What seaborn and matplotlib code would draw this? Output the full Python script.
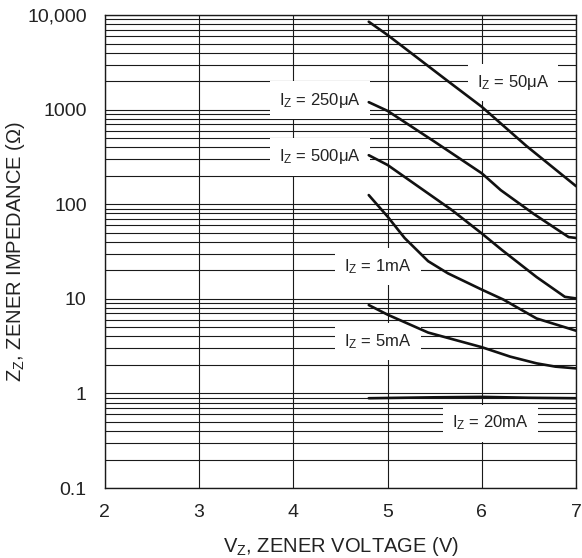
import numpy as np
import pandas as pd
import seaborn as sns
import matplotlib.pyplot as plt
from matplotlib.ticker import FixedLocator, NullFormatter

sns.set_style("white")
plt.rcParams['font.family'] = ['Liberation Sans', 'DejaVu Sans']
plt.rcParams['mathtext.fontset'] = 'custom'
plt.rcParams['mathtext.rm'] = 'Liberation Sans'
plt.rcParams['mathtext.it'] = 'Liberation Sans'

##  Curve data (Vz in volts, Zz in ohms)
vz_50ua = [4.8, 5.0, 5.64, 6.0, 6.47, 7.0]
zz_50ua = [8500, 6150, 2000, 1070, 415, 155]

vz_250ua = [4.8, 5.0, 5.5, 6.0, 6.2, 6.55, 6.85, 6.92, 7.0]
zz_250ua = [1200, 970, 457, 212, 141, 79, 50, 45, 44]

vz_500ua = [4.8, 5.0, 5.68, 6.0, 6.21, 6.58, 6.88, 7.0]
zz_500ua = [330, 260, 87, 49, 33, 17, 10.5, 10.1]

vz_1ma = [4.8, 5.0, 5.18, 5.43, 5.64, 6.0, 6.23, 6.58, 7.0]
zz_1ma = [125, 74, 44, 25, 18.6, 12.5, 9.8, 6.2, 4.6]

vz_5ma = [4.8, 5.0, 5.43, 6.0, 6.3, 6.58, 6.78, 7.0]
zz_5ma = [8.6, 6.8, 4.4, 3.08, 2.45, 2.08, 1.92, 1.84]

vz_20ma = [4.8, 5.5, 6.0, 6.5, 7.0]
zz_20ma = [0.89, 0.91, 0.92, 0.90, 0.89]

curve_names = ['50uA', '250uA', '500uA', '1mA', '5mA', '20mA']
curve_x = [vz_50ua, vz_250ua, vz_500ua, vz_1ma, vz_5ma, vz_20ma]
curve_y = [zz_50ua, zz_250ua, zz_500ua, zz_1ma, zz_5ma, zz_20ma]

#  Curve labels and where they sit
label_text = [r'I$_{\mathrm{Z}}$ = 50μA', r'I$_{\mathrm{Z}}$ = 250μA',
              r'I$_{\mathrm{Z}}$ = 500μA', r'I$_{\mathrm{Z}}$ = 1mA',
              r'I$_{\mathrm{Z}}$ = 5mA', r'I$_{\mathrm{Z}}$ = 20mA']
label_x = [6.33, 4.28, 4.28, 4.90, 4.90, 6.09]
label_y = [1950, 1260, 316, 22, 3.5, 0.486]

y_ticks = [0.1, 1, 10, 100, 1000, 10000]
y_tick_labels = ['0.1', '1', '10', '100', '1000', '10,000']
x_ticks = [2, 3, 4, 5, 6, 7]

#  Long-form table for seaborn
frames = []
for name, xs, ys in zip(curve_names, curve_x, curve_y):
    frames.append(pd.DataFrame({'Vz': xs, 'Zz': ys, 'curve': name}))
data = pd.concat(frames, ignore_index=True)

fig = plt.figure(figsize=(5.82, 5.58), dpi=100)
ax = fig.add_axes([0.180, 0.1254, 0.810, 0.8476])

ax.set_yscale('log')
ax.set_xlim(2, 7)
ax.set_ylim(0.1, 10000)

#  Grid: every 1..9 per decade horizontally, integer volts vertically
minor = [m * 10.0 ** d for d in range(-1, 4) for m in range(2, 10)]
ax.yaxis.set_major_locator(FixedLocator(y_ticks))
ax.yaxis.set_minor_locator(FixedLocator(minor))
ax.yaxis.set_minor_formatter(NullFormatter())
ax.set_yticklabels(y_tick_labels)
ax.set_xticks(x_ticks)
ax.grid(True, which='major', axis='both', color='#1a1a1a', linewidth=0.8)
ax.grid(True, which='minor', axis='y', color='#1a1a1a', linewidth=0.8)
ax.set_axisbelow(True)

sns.lineplot(data=data, x='Vz', y='Zz', hue='curve', units='curve',
             estimator=None, sort=False, palette=['#111111'] * 6,
             linewidth=1.9, legend=False, ax=ax, zorder=3)

#  White boxes break the grid but sit under the curves
for txt, lx, ly in zip(label_text, label_x, label_y):
    ax.text(lx, ly, txt, ha='center', va='center', fontsize=12, color='#222222',
            zorder=2.5, bbox=dict(boxstyle='square,pad=0.55', facecolor='white',
                                  edgecolor='none'))

for s in ax.spines.values():
    s.set_color('#1a1a1a')
    s.set_linewidth(1.0)
    s.set_zorder(4)

ax.tick_params(axis='both', which='both', length=0, labelsize=14,
               colors='#222222')
ax.tick_params(axis='x', pad=11.5)
ax.tick_params(axis='y', pad=13)
ax.set_xlabel(r'V$_{\mathrm{Z}}$, ZENER VOLTAGE (V)', fontsize=14.5,
              color='#222222')
ax.set_ylabel(r'Z$_{\mathrm{Z}}$, ZENER IMPEDANCE (Ω)', fontsize=14.5,
              color='#222222')
ax.xaxis.set_label_coords(0.5, -0.099)
ax.yaxis.set_label_coords(-0.166, 0.5)

fig.savefig('out.png', dpi=100)
